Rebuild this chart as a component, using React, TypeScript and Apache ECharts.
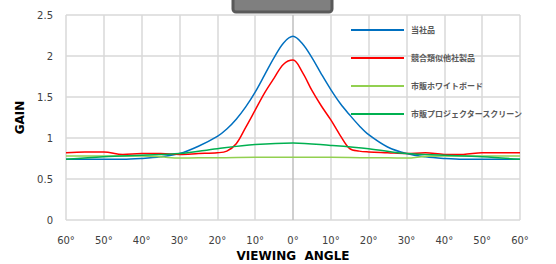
import React, { useEffect, useRef } from "react";
import * as echarts from "echarts";

const seriesNames = ["当社品", "競合類似他社製品", "市販ホワイトボード", "市販プロジェクタースクリーン"];
const seriesColors = ["#0070c0", "#ff0000", "#92d050", "#00b050"];

const ownAngles = [-60, -55, -50, -45, -40, -35, -30, -25, -20, -17.5, -15, -12.5, -10, -7.5, -5, -2.5, 0, 2.5, 5, 7.5, 10, 12.5, 15, 17.5, 20, 25, 30, 35, 40, 45, 50, 55, 60];
const ownGain = [0.74, 0.74, 0.74, 0.74, 0.75, 0.77, 0.81, 0.9, 1.02, 1.11, 1.23, 1.38, 1.56, 1.77, 1.98, 2.16, 2.24, 2.15, 1.98, 1.78, 1.59, 1.42, 1.28, 1.15, 1.04, 0.89, 0.81, 0.77, 0.75, 0.74, 0.74, 0.74, 0.74];

const rivalAngles = [-60, -55, -50, -45, -40, -35, -30, -25, -20, -17.5, -15, -12.5, -10, -7.5, -5, -2.5, 0, 2.5, 5, 7.5, 10, 12.5, 15, 17.5, 20, 25, 30, 35, 40, 45, 50, 55, 60];
const rivalGain = [0.82, 0.83, 0.83, 0.8, 0.81, 0.81, 0.8, 0.81, 0.82, 0.84, 0.93, 1.13, 1.34, 1.55, 1.73, 1.9, 1.95, 1.8, 1.58, 1.39, 1.22, 1.03, 0.87, 0.84, 0.83, 0.82, 0.81, 0.82, 0.8, 0.8, 0.82, 0.82, 0.82];

const boardAngles = [-60, -50, -40, -35, -30, -25, -20, -10, 0, 10, 20, 25, 30, 35, 40, 50, 60];
const boardGain = [0.78, 0.78, 0.78, 0.77, 0.755, 0.76, 0.76, 0.765, 0.765, 0.765, 0.76, 0.76, 0.755, 0.775, 0.78, 0.78, 0.78];

const screenAngles = [-60, -50, -40, -30, -20, -10, 0, 10, 20, 30, 40, 50, 60];
const screenGain = [0.74, 0.77, 0.79, 0.81, 0.87, 0.92, 0.94, 0.91, 0.87, 0.81, 0.79, 0.77, 0.74];

const xTicks = [-60, -50, -40, -30, -20, -10, 0, 10, 20, 30, 40, 50, 60];

const pairs = (xs: number[], ys: number[]) => xs.map((x, i) => [x, ys[i]]);

export default function App() {
  const ref = useRef<HTMLDivElement>(null);
  useEffect(() => {
    if (!ref.current) return;
    const chart = echarts.init(ref.current, undefined, { renderer: "svg" });
    const data = [
      pairs(ownAngles, ownGain),
      pairs(rivalAngles, rivalGain),
      pairs(boardAngles, boardGain),
      pairs(screenAngles, screenGain),
    ];
    const splitColors = xTicks.map((t) => (t === 0 ? "#bfbfbf" : "#d9d9d9"));
    chart.setOption({
      animation: false,
      textStyle: { fontFamily: "DejaVu Sans" },
      grid: { left: 66, right: 36, top: 15, bottom: 44, containLabel: false, outerBoundsMode: "none" },
      graphic: [
        {
          type: "rect",
          shape: { x: 233, y: -5, width: 99, height: 17, r: 3 },
          style: { fill: "#7f7f7f", stroke: "#595959", lineWidth: 3 },
          z: 10,
        },
      ],
      legend: {
        orient: "vertical",
        left: 346,
        top: 21,
        icon: "rect",
        itemWidth: 53,
        itemHeight: 2,
        itemGap: 20,
        data: seriesNames,
        textStyle: {
          fontFamily: "Noto Sans CJK JP",
          fontSize: 8,
          fontWeight: "bold",
          color: "#595959",
          padding: [0, 0, 0, 2],
        },
      },
      xAxis: {
        type: "value",
        min: -60,
        max: 60,
        interval: 10,
        name: "VIEWING  ANGLE",
        nameLocation: "middle",
        nameGap: 30,
        nameTextStyle: { fontSize: 12, fontWeight: "bold", color: "#000", fontFamily: "DejaVu Sans" },
        axisLine: { show: false },
        axisTick: { show: false },
        axisLabel: {
          margin: 15,
          fontSize: 10,
          color: "#404040",
          formatter: (v: number) => Math.abs(v) + "°",
        },
        splitLine: { show: true, lineStyle: { color: splitColors, width: 1.5 } },
      },
      yAxis: {
        type: "value",
        min: 0,
        max: 2.5,
        interval: 0.5,
        name: "GAIN",
        nameLocation: "middle",
        nameGap: 35,
        nameTextStyle: { fontSize: 12, fontWeight: "bold", color: "#000", fontFamily: "DejaVu Sans" },
        axisLine: { show: false },
        axisTick: { show: false },
        axisLabel: { margin: 13, fontSize: 10, color: "#404040" },
        splitLine: { show: true, lineStyle: { color: "#d9d9d9", width: 1.5 } },
      },
      series: seriesNames.map((name, i) => ({
        name,
        type: "line",
        data: data[i],
        smooth: 0.35,
        symbol: "none",
        lineStyle: { color: seriesColors[i], width: 1.5 },
        itemStyle: { color: seriesColors[i] },
        z: 3,
      })),
    });
    return () => chart.dispose();
  }, []);
  return (
    <div
      ref={ref}
      style={{ position: "fixed", left: 0, top: 0, width: 556, height: 264, background: "#fff" }}
    />
  );
}
